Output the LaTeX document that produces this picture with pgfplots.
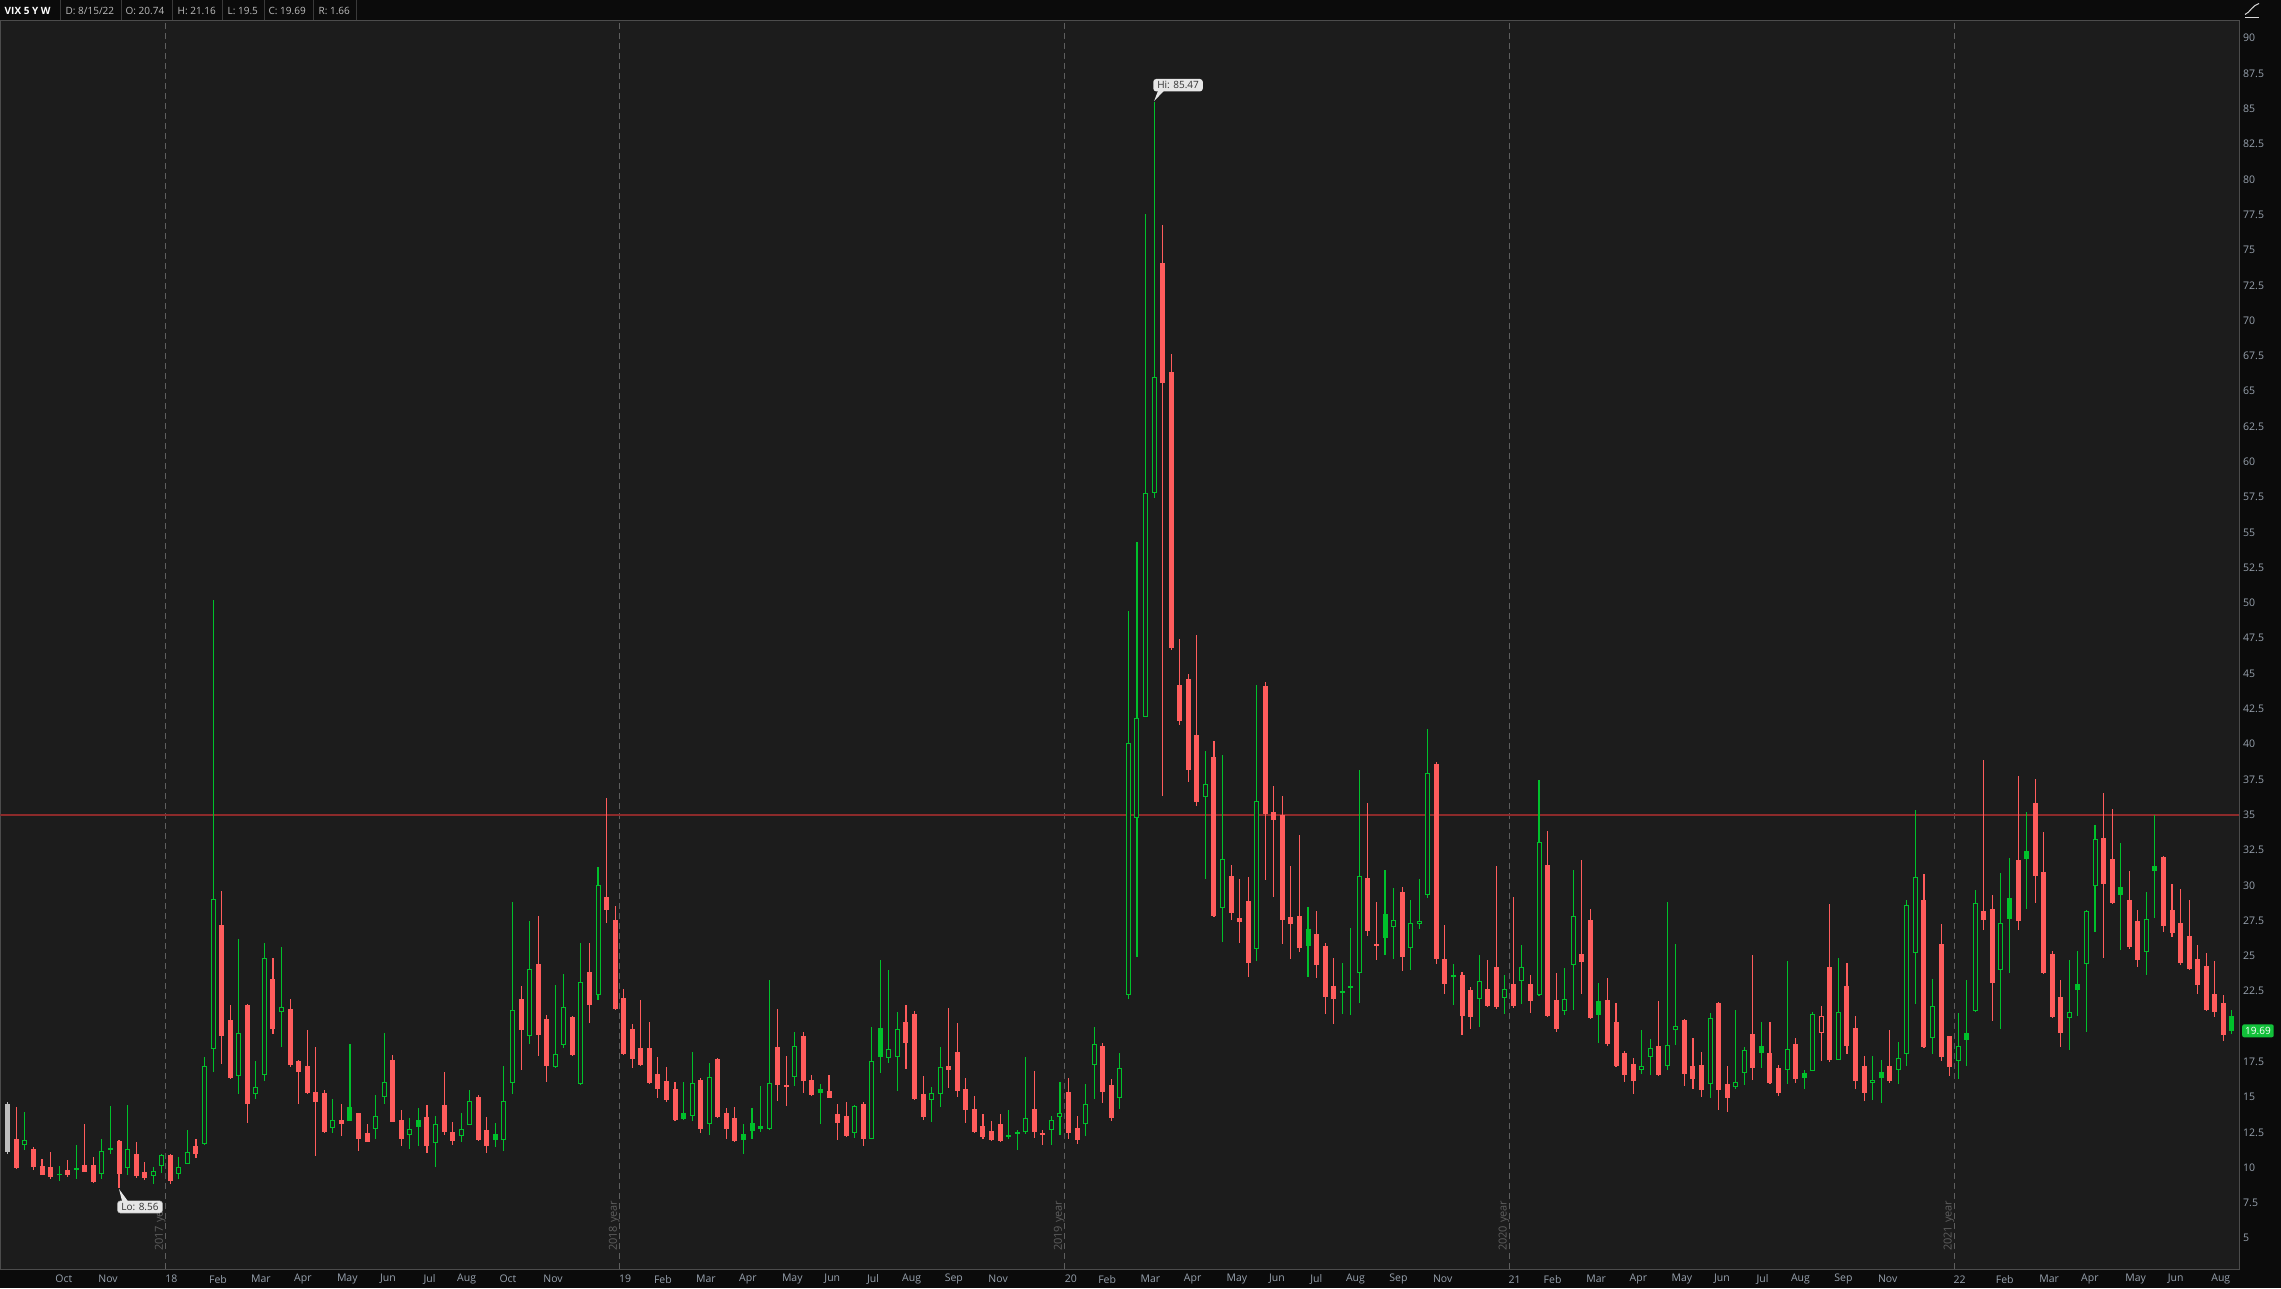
\documentclass[border=0pt]{standalone}
\usepackage{fontspec}
\setmainfont{Open Sans}
\usepackage{pgfplots}
\pgfplotsset{compat=1.18}
\usepackage{pgfplotstable}

\definecolor{bgplot}{HTML}{1C1C1C}
\definecolor{bgout}{HTML}{0B0B0B}
\definecolor{cred}{HTML}{FF5C5C}
\definecolor{cgreen}{HTML}{00C12B}
\definecolor{cgray}{HTML}{BEBEBE}
\definecolor{lbl}{HTML}{98A2AE}
\definecolor{framec}{HTML}{4C4C4C}
\definecolor{yearc}{HTML}{5E5E5E}
\definecolor{hlinec}{HTML}{8C2A2A}
\definecolor{hdrtext}{HTML}{BDBDBD}
\definecolor{hdrsep}{HTML}{3A3A3A}
\definecolor{tagc}{HTML}{12C13A}
\definecolor{boxc}{HTML}{E6E6E6}

% t: 0 red filled, 1 red hollow, 2 green filled, 3 green hollow, 4 gray
\pgfplotstableread{
i o h l c t
0 14.53 14.65 10.96 11.11 4
1 12.02 14.29 9.93 9.99 0
2 11.62 13.95 11.26 11.99 3
3 11.32 11.45 9.84 10.05 0
4 10.11 10.60 9.45 9.51 0
5 10.05 11.08 9.23 9.35 0
6 9.50 10.14 9.05 9.56 3
7 9.81 10.57 9.32 9.51 0
8 9.88 11.62 9.20 9.92 3
9 10.17 13.11 9.66 9.72 0
10 10.17 10.78 8.93 8.99 0
11 9.54 12.02 9.20 11.20 3
12 11.33 14.38 10.96 11.37 3
13 11.87 11.96 8.56 9.57 0
14 9.96 14.44 9.45 11.35 3
15 10.96 11.81 9.29 9.42 0
16 9.69 10.41 9.14 9.29 0
17 9.38 10.05 8.84 9.78 3
18 10.11 10.96 9.60 10.93 3
19 10.90 10.99 8.84 9.08 0
20 9.54 10.72 9.23 10.08 3
21 10.29 12.68 10.23 11.14 3
22 11.53 12.02 10.66 10.99 0
23 11.66 17.83 11.62 17.22 3
24 18.37 50.20 16.77 29.02 3
25 27.21 29.63 17.37 19.34 0
26 20.43 21.55 16.30 16.37 0
27 16.47 26.18 15.20 19.52 3
28 21.52 21.60 13.17 14.53 0
29 15.20 17.56 14.83 15.68 3
30 16.53 25.94 16.16 24.82 3
31 23.33 24.88 19.49 19.83 0
32 21.00 25.63 18.52 21.40 3
33 21.22 21.94 17.16 17.28 0
34 17.55 17.62 14.50 16.80 0
35 17.19 19.73 15.20 15.29 0
36 15.35 18.58 10.81 14.68 0
37 15.29 15.50 12.47 12.53 0
38 12.83 14.89 12.44 13.35 3
39 13.35 14.50 12.23 13.08 0
40 14.29 18.74 13.29 13.32 2
41 13.86 13.90 11.17 12.02 0
42 12.44 13.08 11.81 11.84 0
43 12.71 15.13 12.05 13.68 3
44 14.98 19.52 14.50 16.04 3
45 17.62 18.01 13.20 13.26 0
46 13.35 14.05 11.50 12.05 0
47 12.32 13.50 11.35 12.77 3
48 13.35 14.20 11.50 12.90 2
49 13.56 14.41 11.02 11.56 0
50 11.78 13.68 10.05 13.08 3
51 14.44 16.77 12.32 12.53 0
52 12.50 13.20 11.59 11.90 0
53 12.26 13.89 11.81 12.77 3
54 13.05 15.50 13.00 14.74 3
55 14.98 15.13 11.87 11.96 0
56 12.65 13.62 11.02 11.56 0
57 12.38 13.14 11.44 11.96 2
58 11.93 17.22 11.20 14.74 3
59 15.98 28.81 15.20 21.19 3
60 21.94 22.85 16.95 19.76 0
61 19.31 27.45 18.74 24.09 3
62 24.42 27.81 17.92 19.40 0
63 20.52 20.79 16.04 17.22 0
64 17.13 22.91 17.05 18.07 3
65 18.71 23.73 18.46 21.40 3
66 20.70 20.75 17.92 17.98 0
67 15.95 25.88 15.83 23.18 3
68 23.88 25.88 20.25 21.55 0
69 22.25 31.29 21.91 30.05 3
70 29.20 36.17 27.36 28.27 0
71 27.51 28.51 21.16 21.25 0
72 22.00 22.67 18.01 18.07 0
73 19.79 20.19 17.07 17.71 0
74 18.46 21.91 17.22 17.28 0
75 18.46 20.34 15.95 16.01 0
76 16.62 17.83 14.95 15.59 0
77 16.13 17.16 14.68 14.80 0
78 15.56 16.10 13.30 13.38 0
79 13.86 16.10 13.35 13.47 2
80 13.68 18.22 13.29 15.98 3
81 16.19 16.34 12.44 12.74 0
82 13.08 17.43 12.29 16.40 3
83 17.68 17.77 13.55 13.59 0
84 13.86 14.20 12.05 12.71 0
85 13.50 14.29 11.81 11.90 0
86 12.38 13.08 10.96 11.96 2
87 13.14 14.20 12.02 12.62 2
88 12.93 15.80 12.53 12.74 2
89 12.74 23.30 12.70 15.98 3
90 18.52 21.25 14.74 15.86 0
91 15.83 17.92 14.35 15.74 0
92 16.44 19.64 15.80 18.65 3
93 19.31 19.64 15.26 16.16 0
94 16.19 16.59 15.10 15.17 0
95 15.56 15.95 13.08 15.32 2
96 15.41 16.59 14.90 14.95 0
97 13.77 14.53 11.93 13.17 0
98 13.65 14.62 12.17 12.26 0
99 12.47 14.44 12.11 14.35 3
100 14.50 14.65 11.56 12.02 0
101 12.05 19.98 12.00 17.56 3
102 19.88 24.73 16.71 17.86 2
103 17.80 24.03 17.43 18.37 3
104 17.86 21.00 15.41 19.79 3
105 20.31 21.55 17.01 18.83 0
106 20.88 21.10 14.77 14.83 0
107 15.20 16.47 13.38 13.56 0
108 14.80 15.74 13.20 15.26 3
109 15.23 18.58 14.29 17.16 3
110 17.19 21.34 15.65 16.92 0
111 18.19 20.28 15.01 15.41 0
112 15.56 16.37 13.17 14.11 0
113 14.14 15.04 12.44 12.50 0
114 12.93 13.83 12.02 12.20 0
115 12.59 13.29 11.90 11.96 0
116 13.08 13.83 11.80 11.87 0
117 12.20 14.05 12.02 12.29 3
118 12.44 12.68 11.26 12.50 3
119 12.53 17.86 12.41 13.53 3
120 14.14 16.83 12.11 12.53 0
121 12.41 12.68 11.62 12.35 0
122 12.68 13.65 11.62 13.35 3
123 13.62 16.10 12.32 13.89 3
124 15.35 16.34 12.02 12.47 0
125 12.80 13.68 11.65 11.96 0
126 13.08 15.92 12.23 14.50 3
127 17.25 19.95 14.83 18.74 3
128 18.62 18.83 14.59 15.35 0
129 15.83 16.31 13.32 13.50 0
130 14.90 18.13 14.14 17.05 3
131 22.22 49.45 21.98 40.06 3
132 34.80 54.29 24.94 41.84 3
133 41.94 77.54 41.90 57.81 3
134 57.81 85.47 57.44 66.03 3
135 74.11 76.78 36.30 65.56 0
136 66.36 67.63 46.68 46.78 0
137 44.19 47.48 41.33 41.61 0
138 44.62 44.99 37.34 38.14 0
139 40.62 47.76 35.60 35.93 0
140 36.26 39.54 30.48 37.15 3
141 39.07 40.25 27.76 27.85 0
142 28.42 39.26 25.97 31.84 3
143 30.67 31.47 27.57 28.04 0
144 27.66 30.48 25.88 27.38 0
145 28.88 30.58 23.48 24.47 0
146 25.50 44.19 24.66 35.97 3
147 44.15 44.43 30.34 35.08 0
148 35.18 37.05 29.17 34.61 0
149 34.99 36.30 25.83 27.52 0
150 27.76 31.37 24.80 27.29 0
151 27.80 33.59 25.27 25.53 0
152 26.88 28.46 23.50 25.70 2
153 26.53 28.20 23.43 24.33 0
154 25.68 25.94 20.88 22.09 0
155 22.84 24.87 20.17 21.95 0
156 22.42 24.52 20.91 22.50 3
157 22.75 27.00 20.84 22.89 3
158 23.81 38.19 21.68 30.68 3
159 30.54 35.85 26.41 26.76 0
160 25.79 28.84 24.73 25.73 0
161 27.99 31.11 25.09 26.27 2
162 27.05 29.83 24.80 27.56 3
163 29.50 29.90 23.93 24.90 0
164 25.58 28.98 24.02 27.35 3
165 27.28 30.47 26.93 27.49 3
166 29.34 41.09 29.10 37.98 3
167 38.57 38.73 24.45 24.75 0
168 24.75 27.21 22.32 23.01 0
169 23.55 24.45 21.54 23.60 3
170 23.62 23.86 19.42 20.74 0
171 22.56 22.80 19.84 20.65 0
172 21.97 25.09 19.96 23.25 3
173 22.63 24.73 21.38 21.43 0
174 24.19 31.39 21.26 21.38 0
175 22.04 23.62 20.91 22.68 3
176 22.98 29.15 21.33 21.45 0
177 23.24 25.75 21.57 24.24 3
178 22.98 23.67 20.98 21.80 0
179 22.25 37.48 22.13 33.04 3
180 31.41 33.87 20.70 20.74 0
181 21.85 23.76 19.58 19.82 0
182 21.07 24.14 20.79 21.97 3
183 24.38 31.11 21.19 27.85 3
184 25.11 31.81 22.32 24.57 0
185 27.52 28.34 20.55 20.60 0
186 21.78 23.10 18.85 20.81 2
187 21.85 23.46 18.59 18.76 0
188 20.29 21.69 17.13 17.18 0
189 18.10 18.26 16.07 16.56 0
190 17.32 17.79 15.24 16.14 0
191 16.94 19.77 16.66 17.22 3
192 17.86 19.14 16.59 18.50 3
193 18.59 21.78 16.50 16.56 0
194 17.20 28.82 16.94 18.71 3
195 19.77 25.87 18.71 20.06 3
196 20.44 20.50 15.81 16.61 0
197 17.18 19.21 15.60 16.28 0
198 17.25 18.22 15.03 15.50 0
199 15.95 20.95 14.96 20.62 3
200 21.64 21.76 14.11 15.50 0
201 15.95 17.22 13.94 14.93 0
202 15.69 21.19 15.60 16.07 3
203 16.73 18.55 15.83 18.36 3
204 19.49 25.04 16.23 17.06 0
205 18.59 20.32 17.08 18.12 2
206 18.10 20.32 15.95 16.00 0
207 17.04 17.29 15.10 15.29 0
208 16.94 24.66 15.95 18.43 3
209 18.73 19.21 16.02 16.28 0
210 16.68 16.94 15.59 16.35 2
211 16.87 21.02 16.82 20.86 3
212 19.54 21.43 17.55 20.72 1
213 24.21 28.70 17.48 17.60 0
214 17.65 24.83 17.60 21.05 3
215 22.84 24.50 18.07 18.62 0
216 19.87 20.72 15.59 16.14 0
217 17.18 17.88 14.74 15.29 0
218 16.02 17.93 14.82 16.19 3
219 16.75 17.60 14.58 16.35 2
220 17.18 19.77 16.00 16.14 0
221 16.94 18.92 15.95 17.79 3
222 18.07 28.93 17.20 28.58 3
223 25.23 35.31 21.62 30.61 3
224 28.93 30.78 18.50 18.54 0
225 19.21 23.39 18.07 21.47 3
226 25.82 27.28 17.53 17.84 0
227 19.30 19.35 16.49 17.13 0
228 17.53 20.98 16.26 18.64 3
229 19.54 23.27 17.22 19.04 2
230 21.12 29.69 21.00 28.77 3
231 28.16 38.90 26.81 27.54 0
232 28.30 29.34 20.36 23.08 0
233 24.02 30.89 19.84 27.31 3
234 29.12 31.96 23.81 27.61 2
235 31.77 37.72 26.86 27.47 0
236 32.40 35.17 28.34 31.86 2
237 35.80 37.50 28.77 30.66 0
238 30.96 33.75 23.74 23.79 0
239 25.11 25.35 20.60 20.67 0
240 22.06 23.27 18.55 19.54 0
241 20.62 24.68 18.36 21.02 3
242 23.03 25.35 20.77 22.56 2
243 24.45 28.23 19.61 28.16 3
244 29.97 34.29 26.69 33.30 3
245 33.33 36.56 24.85 30.09 0
246 31.84 35.43 28.70 28.75 0
247 29.90 33.02 25.44 29.31 2
248 28.93 30.99 25.51 25.60 0
249 27.45 28.27 24.21 24.71 0
250 25.28 29.52 23.67 27.64 3
251 31.34 34.95 27.68 31.01 2
252 31.98 32.10 26.69 27.12 0
253 28.23 30.11 26.34 26.62 0
254 27.31 29.74 24.33 24.50 0
255 26.38 28.98 23.98 24.09 0
256 24.75 25.79 22.32 22.91 0
257 24.26 25.23 21.10 21.19 0
258 22.32 24.61 20.67 21.02 0
259 21.64 22.25 18.97 19.37 0
260 20.74 21.16 19.50 19.69 2
}\vix

\pgfplotsset{
  wick/.style 2 args={forget plot, draw=none, mark=none,
    restrict expr to domain={\thisrow{t}}{#1},
    error bars/.cd, y dir=both, y explicit, error mark=none,
    error bar style={draw=#2, line width=1.1pt}},
  body/.style 2 args={forget plot, draw=none, mark=none,
    restrict expr to domain={\thisrow{t}}{#1},
    error bars/.cd, y dir=both, y explicit, error mark=none,
    error bar style={draw=#2, line width=5pt}},
  hollowin/.style={forget plot, draw=none, mark=none,
    restrict expr to domain={mod(\thisrow{t},2)}{0.5:1.5},
    error bars/.cd, y dir=both, y explicit, error mark=none,
    error bar style={draw=bgplot, line width=3pt}},
}

\begin{document}
\begin{tikzpicture}[x=1pt,y=1pt]
\fill[bgout] (0,0) rectangle (2281,1288);
\begin{axis}[
  at={(0pt,19pt)}, anchor=south west, scale only axis,
  width=2239pt, height=1249pt,
  xmin=-0.853, xmax=260.83, ymin=2.805, ymax=91.26,
  axis background/.style={fill=bgplot},
  axis line style={draw=framec, line width=1pt},
  major tick length=0pt,
  ytick={5,7.5,10,12.5,15,17.5,22.5,25,27.5,30,32.5,35,37.5,40,42.5,45,47.5,50,52.5,55,57.5,60,62.5,65,67.5,70,72.5,75,77.5,80,82.5,85,87.5,90},
  yticklabel pos=right,
  scaled y ticks=false,
  /pgf/number format/fixed,
  /pgf/number format/precision=1,
  /pgf/number format/assume math mode=true,
  yticklabel style={anchor=west, inner sep=0pt, xshift=4pt, font=\fontsize{10.5}{12}\selectfont, text=lbl},
  xtick={6.55,11.72,19.12,24.57,29.58,34.50,39.69,44.45,49.30,53.64,58.47,63.74,72.16,76.58,81.60,86.52,91.71,96.39,101.15,105.66,110.59,115.77,124.27,128.52,133.58,138.51,143.69,148.36,152.96,157.55,162.57,167.74,176.16,180.59,185.68,190.62,195.71,200.39,205.14,209.57,214.59,219.76,228.18,233.45,238.64,243.40,248.75,253.43,258.70},
  xticklabels={Oct,Nov,18,Feb,Mar,Apr,May,Jun,Jul,Aug,Oct,Nov,19,Feb,Mar,Apr,May,Jun,Jul,Aug,Sep,Nov,20,Feb,Mar,Apr,May,Jun,Jul,Aug,Sep,Nov,21,Feb,Mar,Apr,May,Jun,Jul,Aug,Sep,Nov,22,Feb,Mar,Apr,May,Jun,Aug},
  xticklabel style={anchor=center, yshift=-10pt, font=\fontsize{10.5}{12}\selectfont, text=lbl},
]
% year separators
\foreach \yx in {18.47,71.53,123.54,175.55,227.56}{
  \edef\tmp{\noexpand\draw[yearc, line width=1pt, dash pattern=on 6pt off 4pt] (axis cs:\yx,2.805) -- (axis cs:\yx,91.26);}\tmp
}
\node[rotate=90, anchor=south west, inner sep=0pt, xshift=-3pt, text=yearc, font=\fontsize{11}{12}\selectfont] at (axis cs:18.47,4.3) {2017 year};
\node[rotate=90, anchor=south west, inner sep=0pt, xshift=-3pt, text=yearc, font=\fontsize{11}{12}\selectfont] at (axis cs:71.53,4.3) {2018 year};
\node[rotate=90, anchor=south west, inner sep=0pt, xshift=-3pt, text=yearc, font=\fontsize{11}{12}\selectfont] at (axis cs:123.54,4.3) {2019 year};
\node[rotate=90, anchor=south west, inner sep=0pt, xshift=-3pt, text=yearc, font=\fontsize{11}{12}\selectfont] at (axis cs:175.55,4.3) {2020 year};
\node[rotate=90, anchor=south west, inner sep=0pt, xshift=-3pt, text=yearc, font=\fontsize{11}{12}\selectfont] at (axis cs:227.56,4.3) {2021 year};
% horizontal level at 35
\draw[hlinec, line width=1.6pt] (axis cs:-0.853,35) -- (axis cs:260.83,35);

% wicks
\addplot[wick={-0.5:1.5}{cred}] table[x=i, y expr={(\thisrow{h}+\thisrow{l})/2}, y error expr={(\thisrow{h}-\thisrow{l})/2}] {\vix};
\addplot[wick={1.5:3.5}{cgreen}] table[x=i, y expr={(\thisrow{h}+\thisrow{l})/2}, y error expr={(\thisrow{h}-\thisrow{l})/2}] {\vix};
\addplot[wick={3.5:4.5}{cgray}] table[x=i, y expr={(\thisrow{h}+\thisrow{l})/2}, y error expr={(\thisrow{h}-\thisrow{l})/2}] {\vix};
% bodies
\addplot[body={-0.5:1.5}{cred}] table[x=i, y expr={(\thisrow{o}+\thisrow{c})/2}, y error expr={max(abs(\thisrow{c}-\thisrow{o})/2,0.05)}] {\vix};
\addplot[body={1.5:3.5}{cgreen}] table[x=i, y expr={(\thisrow{o}+\thisrow{c})/2}, y error expr={max(abs(\thisrow{c}-\thisrow{o})/2,0.05)}] {\vix};
\addplot[body={3.5:4.5}{cgray}] table[x=i, y expr={(\thisrow{o}+\thisrow{c})/2}, y error expr={max(abs(\thisrow{c}-\thisrow{o})/2,0.05)}] {\vix};
% hollow interiors
\addplot[hollowin] table[x=i, y expr={(\thisrow{o}+\thisrow{c})/2}, y error expr={max(abs(\thisrow{c}-\thisrow{o})/2-0.0708,0)}] {\vix};

\coordinate (hipt) at (axis cs:134,85.47);
\coordinate (lopt) at (axis cs:13,8.56);
\coordinate (lastpt) at (axis cs:260.83,19.69);
\end{axis}

% Hi / Lo callouts
\node[fill=boxc, rounded corners=3pt, text=black!80, font=\fontsize{10}{12}\selectfont, inner xsep=4pt, inner ysep=2.5pt] (hibox) at ([xshift=24pt,yshift=17pt]hipt) {Hi: 85.47};
\fill[boxc] ([xshift=5pt,yshift=1pt]hibox.south west) -- ([yshift=1pt]hipt) -- ([xshift=11pt,yshift=1pt]hibox.south west) -- cycle;
\node[fill=boxc, draw=black!40, rounded corners=3pt, text=black!80, font=\fontsize{10}{12}\selectfont, inner xsep=4pt, inner ysep=2.5pt] (lobox) at ([xshift=21pt,yshift=-19pt]lopt) {Lo: 8.56};
\fill[boxc] ([xshift=5pt,yshift=-1pt]lobox.north west) -- ([yshift=-1pt]lopt) -- ([xshift=11pt,yshift=-1pt]lobox.north west) -- cycle;

% last price tag
\node[fill=tagc, rounded corners=2pt, anchor=west, xshift=3pt, minimum height=13pt, inner xsep=3pt, inner ysep=0pt, text=white, font=\fontsize{10}{12}\selectfont] at (lastpt) {19.69};

% header bar
\fill[bgout] (0,1268) rectangle (2281,1288);
\draw[framec, line width=1pt] (0,1268) -- (2239,1268);
\foreach \sx in {60,121,172,222,264,313,356}{\draw[hdrsep, line width=1pt] (\sx,1268) -- (\sx,1288);}
\node[anchor=west, inner sep=0pt, text=white, font=\bfseries\fontsize{10}{12}\selectfont] at (4,1278) {VIX 5 Y W};
\node[anchor=west, inner sep=0pt, text=hdrtext, font=\fontsize{10}{12}\selectfont] at (65,1278) {D: 8/15/22};
\node[anchor=west, inner sep=0pt, text=hdrtext, font=\fontsize{10}{12}\selectfont] at (125,1278) {O: 20.74};
\node[anchor=west, inner sep=0pt, text=hdrtext, font=\fontsize{10}{12}\selectfont] at (177,1278) {H: 21.16};
\node[anchor=west, inner sep=0pt, text=hdrtext, font=\fontsize{10}{12}\selectfont] at (227,1278) {L: 19.5};
\node[anchor=west, inner sep=0pt, text=hdrtext, font=\fontsize{10}{12}\selectfont] at (268,1278) {C: 19.69};
\node[anchor=west, inner sep=0pt, text=hdrtext, font=\fontsize{10}{12}\selectfont] at (318,1278) {R: 1.66};
% top-right icon
\draw[white!85!black, line width=1pt] (2245,1271) -- (2259,1271);
\draw[white!85!black, line width=1pt] (2245,1274) .. controls (2250,1276) and (2252,1283) .. (2259,1285);
\end{tikzpicture}
\end{document}
